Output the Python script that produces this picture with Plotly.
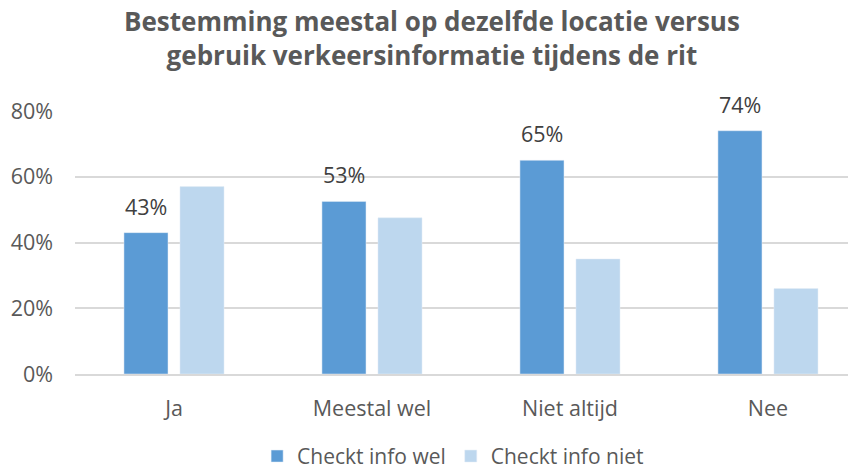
import plotly.graph_objects as go

categories = ["Ja", "Meestal wel", "Niet altijd", "Nee"]
checkt_wel = [0.43, 0.525, 0.65, 0.74]
checkt_niet = [0.57, 0.475, 0.35, 0.26]
wel_labels = ["43%", "53%", "65%", "74%"]

grey = "#595959"
font = "'Open Sans', sans-serif"

fig = go.Figure()
fig.add_trace(go.Bar(x=categories, y=checkt_wel, name="Checkt info wel",
                     marker_color="#5b9bd5"))
fig.add_trace(go.Bar(x=categories, y=checkt_niet, name="Checkt info niet",
                     marker_color="#bdd7ee"))

# data labels for the first series, placed a bit above the bars
for cat, val, lab in zip(categories, checkt_wel, wel_labels):
    fig.add_annotation(x=cat, y=val, text=lab, showarrow=False,
                       xanchor="center", yanchor="bottom", xshift=-28, yshift=10,
                       font=dict(size=21.5, color="#404040"))

# two-line title, anchored above the plot area
fig.add_annotation(text="<b>Bestemming meestal op dezelfde locatie versus<br>gebruik verkeersinformatie tijdens de rit</b>",
                   xref="paper", yref="paper", x=0.4525, y=1.135,
                   xanchor="center", yanchor="bottom", showarrow=False,
                   font=dict(size=26, color=grey))

fig.update_layout(
    width=856, height=470,
    plot_bgcolor="white", paper_bgcolor="white",
    font=dict(family=font, size=21.5, color=grey),
    margin=dict(l=67, r=0, t=103, b=104),
    barmode="group", bargap=0.434, bargroupgap=0.214,
    showlegend=True,
    legend=dict(orientation="h", xref="container", x=0.52, xanchor="center",
                yref="container", y=0.046, yanchor="middle",
                font=dict(size=21, color=grey), itemwidth=30),
)
fig.update_yaxes(range=[0, 0.8], dtick=0.2, tickformat=".0%", gridcolor="#d9d9d9",
                 gridwidth=1.5, zeroline=False, ticklabelstandoff=21, showline=False,
                 automargin=False)
fig.update_xaxes(range=[-0.5, 3.485], showline=True, linecolor="#d9d9d9", linewidth=1.5,
                 ticks="", ticklabelstandoff=14, automargin=False)

fig.write_html("out.html")
